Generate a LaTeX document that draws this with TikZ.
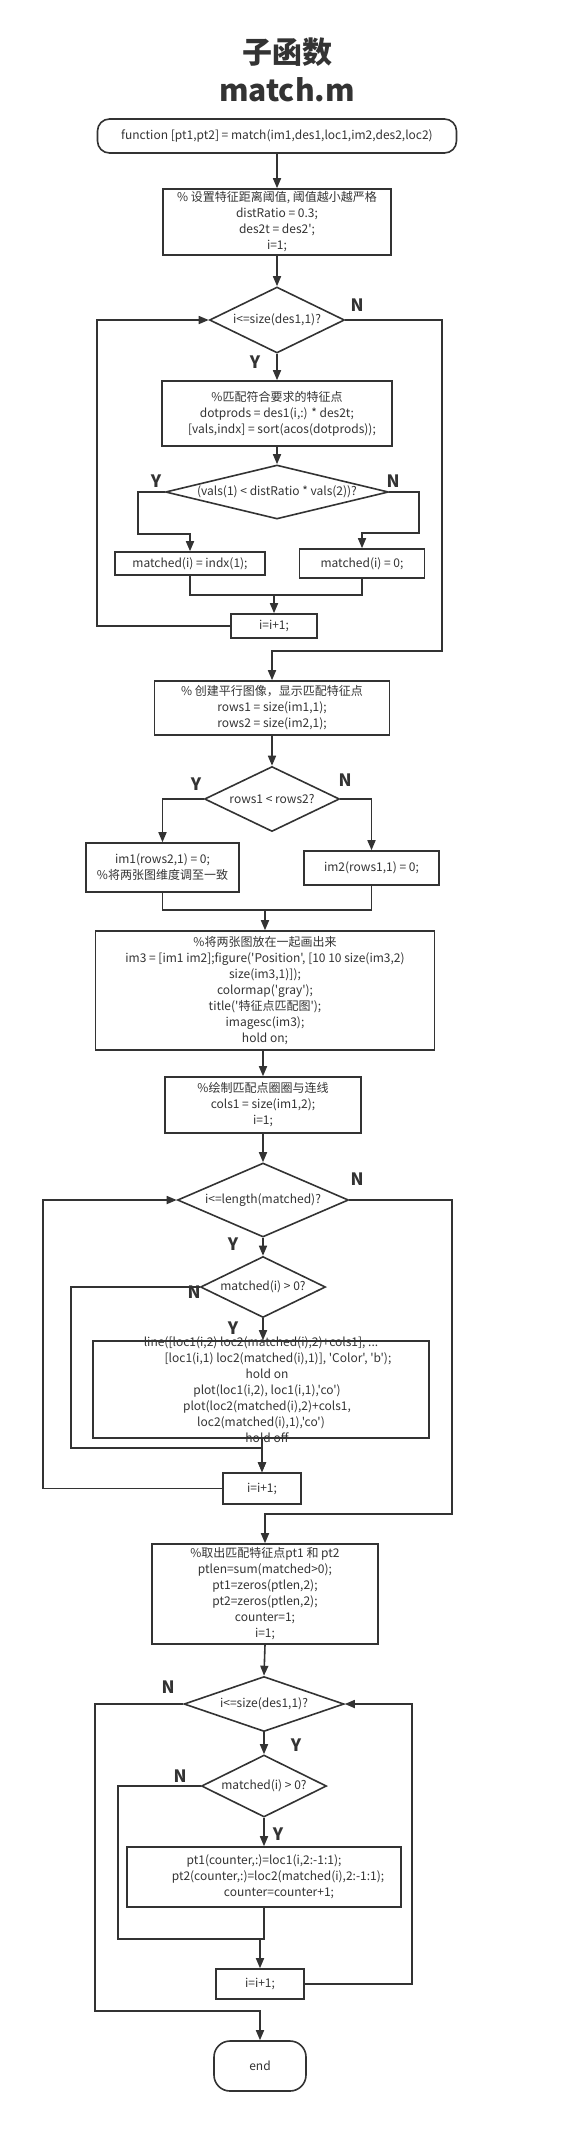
\documentclass[tikz,border=0pt]{standalone}
\usepackage{fontspec}
\setmainfont{Noto Sans CJK SC}[Ligatures=TeXOff]
\usetikzlibrary{shapes.geometric,arrows.meta}
\definecolor{ink}{HTML}{333333}
\begin{document}
\begin{tikzpicture}[x=1pt,y=-1pt,
 every node/.style={text=ink,font=\fontsize{12}{16}\selectfont},
 box/.style={draw=ink,line width=1.6pt,rectangle,inner sep=0pt,align=center},
 term/.style={box,rounded corners=12pt},
 dec/.style={draw=ink,line width=1.6pt,diamond,inner sep=0pt,align=center},
 yn/.style={font=\fontsize{17}{17}\selectfont\bfseries},
 wire/.style={draw=ink,line width=1.6pt},
 arr/.style={wire,->},
 >={Triangle[length=10pt,width=8pt]}]
 \useasboundingbox (0,0) rectangle (571,2153);
 \node[align=center,font=\fontsize{30}{38}\selectfont\bfseries] (title) at (287,70) {子函数\\match.m};
 %
 \node[term,minimum width=359,minimum height=34] (start) at (277,136) {function [pt1,pt2] = match(im1,des1,loc1,im2,des2,loc2)};
 \node[box,minimum width=228,minimum height=66] (init) at (277,222) {\% 设置特征距离阈值, 阈值越小越严格\\distRatio = 0.3;\\des2t = des2';\\i=1;};
 \node[dec,minimum width=135,minimum height=66,aspect=2.05] (dec1) at (277,320) {i<=size(des1,1)?};
 \node[box,minimum width=230,minimum height=65] (body1) at (277,413.5) {\%匹配符合要求的特征点\\dotprods = des1(i,:) * des2t;\hspace*{32pt}\\\hspace*{10pt}[vals,indx] = sort(acos(dotprods));};
 \node[dec,minimum width=223,minimum height=54,aspect=4.13,inner xsep=-8pt] (dec2) at (277,492) {(vals(1) < distRatio * vals(2))?};
 \node[box,minimum width=150,minimum height=23] (setY) at (190,563.5) {matched(i) = indx(1);};
 \node[box,minimum width=125,minimum height=29] (setN) at (362,563.5) {matched(i) = 0;};
 \node[box,minimum width=86,minimum height=24] (inc1) at (274,626) {i=i+1;};
 \coordinate (m1) at (274,595);
 %
 \draw[arr] (start.south) -- (init.north);
 \draw[arr] (init.south) -- (dec1.north);
 \draw[arr] (dec1.south) -- (body1.north);
 \draw[arr] (body1.south) -- (dec2.north);
 \draw[arr] (dec2.west) -| (138,534) -| (setY.north);
 \draw[arr] (dec2.east) -| (419,533) -| (setN.north);
 \draw[wire] (setY.south) |- (m1);
 \draw[arr] (setN.south) |- (m1) -- (inc1.north);
 \draw[arr] (inc1.west) -- ++(-133,0) |- (dec1.west);
 \node[yn] (n1) at (357,305) {N};
 \node[yn] (y1) at (255,362) {Y};
 \node[yn] (y2) at (156,481) {Y};
 \node[yn] (n2) at (393,481) {N};
 %
 \node[box,minimum width=235,minimum height=54] (build) at (272,708) {\% 创建平行图像，显示匹配特征点\\rows1 = size(im1,1);\\rows2 = size(im2,1);};
 \draw[arr] (dec1.east) -| (442,651) -| (build.north);
 \node[dec,minimum width=135,minimum height=65,aspect=2.08] (dec3) at (272,799) {rows1 < rows2?};
 \node[box,minimum width=153,minimum height=49] (padY) at (162.5,867.5) {im1(rows2,1) = 0;\\\%将两张图维度调至一致};
 \node[box,minimum width=135,minimum height=34] (padN) at (371.5,868) {im2(rows1,1) = 0;};
 \coordinate (m2) at (265,910);
 \draw[arr] (build.south) -- (dec3.north);
 \draw[arr] (dec3.west) -| (padY.north);
 \draw[arr] (dec3.east) -| (padN.north);
 \node[yn] (y3) at (196,784) {Y};
 \node[yn] (n3) at (345,780) {N};
 %
 \node[box,minimum width=339,minimum height=119] (show) at (265,990.5) {\%将两张图放在一起画出来\\im3 = [im1 im2];figure('Position', [10 10 size(im3,2)\\size(im3,1)]);\\colormap('gray');\\title('特征点匹配图');\\imagesc(im3);\\hold on;};
 \draw[wire] (padY.south) |- (m2);
 \draw[arr] (padN.south) |- (m2) -- (show.north);
 \node[box,minimum width=196,minimum height=56] (prep) at (263,1105) {\%绘制匹配点圈圈与连线\\cols1 = size(im1,2);\\i=1;};
 \draw[arr] (prep.north |- show.south) -- (prep.north);
 %
 \node[dec,minimum width=171,minimum height=74,aspect=2.31] (dec4) at (263,1200) {i<=length(matched)?};
 \node[dec,minimum width=125,minimum height=61,aspect=2.05] (dec5) at (263,1287) {matched(i) > 0?};
 \node[box,minimum width=336,minimum height=97,inner ysep=-8pt] (plotbox) at (261,1389.5) {line([loc1(i,2) loc2(matched(i),2)+cols1], ...\\\hspace*{34pt}[loc1(i,1) loc2(matched(i),1)], 'Color', 'b');\\\hspace*{12pt}hold on\\\hspace*{12pt}plot(loc1(i,2), loc1(i,1),'co')\\\hspace*{12pt}plot(loc2(matched(i),2)+cols1,\\loc2(matched(i),1),'co')\\\hspace*{12pt}hold off};
 \node[box,minimum width=78,minimum height=31] (inc2) at (262,1488.5) {i=i+1;};
 \draw[arr] (prep.south) -- (dec4.north);
 \draw[arr] (dec4.south) -- (dec5.north);
 \draw[arr] (dec5.south) -- (dec5.south |- plotbox.north);
 \draw[arr] (dec5.west) -| (71,1448) -| (inc2.north);
 \draw[arr] (inc2.north |- plotbox.south) -- (inc2.north);
 \draw[arr] (inc2.west) -- ++(-179,0) |- (dec4.west);
 \node[yn] (n4) at (357,1179) {N};
 \node[yn] (y4) at (233,1244) {Y};
 \node[yn] (n5) at (194,1292) {N};
 \node[yn] (y5) at (233,1328) {Y};
 %
 \node[box,minimum width=226,minimum height=100] (collect) at (265,1594) {\%取出匹配特征点pt1 和 pt2\\ptlen=sum(matched>0);\\pt1=zeros(ptlen,2);\\pt2=zeros(ptlen,2);\\counter=1;\\i=1;};
 \draw[arr] (dec4.east) -| (452,1514) -| (collect.north);
 \node[dec,minimum width=160,minimum height=55,aspect=2.9] (dec6) at (264,1704) {i<=size(des1,1)?};
 \node[dec,minimum width=125,minimum height=62,aspect=2.0] (dec7) at (264,1786) {matched(i) > 0?};
 \node[box,minimum width=274,minimum height=60] (store) at (264,1877) {pt1(counter,:)=loc1(i,2:-1:1);\\\hspace*{28pt}pt2(counter,:)=loc2(matched(i),2:-1:1);\\\hspace*{30pt}counter=counter+1;};
 \node[box,minimum width=88,minimum height=30] (inc3) at (260,1984) {i=i+1;};
 \node[term,rounded corners=16pt,minimum width=92,minimum height=50] (finish) at (260,2066) {end};
 \coordinate (m3) at (260,1939);
 \draw[arr] (collect.south) -- (dec6.north);
 \draw[arr] (dec6.south) -- (dec7.north);
 \draw[arr] (dec7.south) -- (store.north);
 \draw[wire] (store.south) |- (m3);
 \draw[arr] (dec7.west) -| (118,1939) -- (m3) -- (inc3.north);
 \draw[arr] (inc3.east) -- ++(107,0) |- (dec6.east);
 \draw[arr] (dec6.west) -| (95,2011) -| (finish.north);
 \node[yn] (n6) at (168,1687) {N};
 \node[yn] (y6) at (296,1745) {Y};
 \node[yn] (n7) at (180,1776) {N};
 \node[yn] (y7) at (278,1834) {Y};
\end{tikzpicture}
\end{document}
